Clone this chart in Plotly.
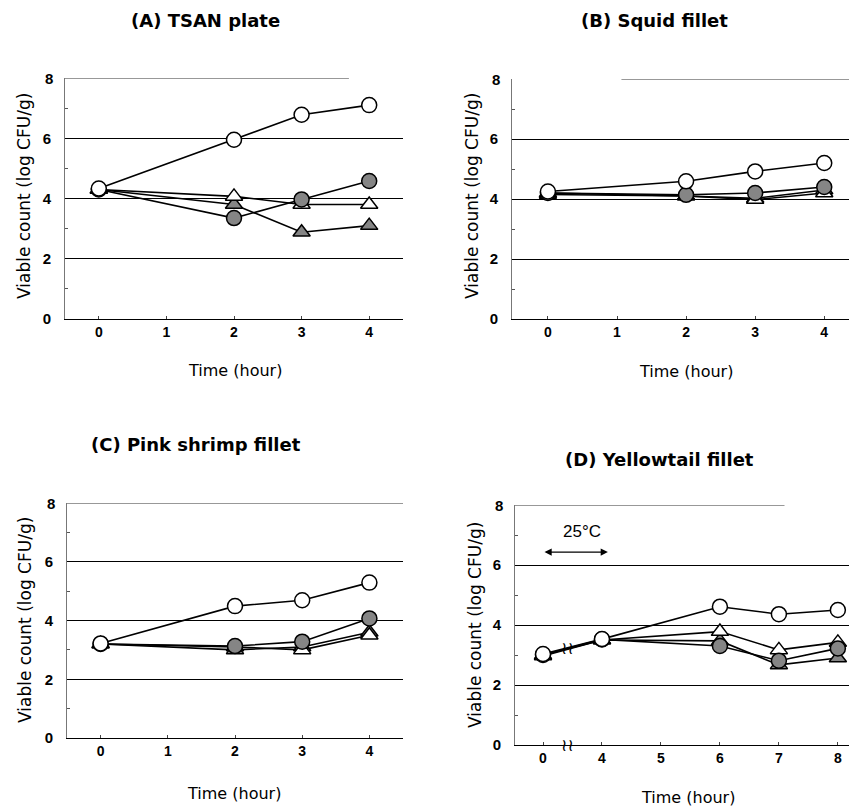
import plotly.graph_objects as go

# ---------------- data ----------------
time_cats_4h = ["0", "1", "2", "3", "4"]
time_meas_4h = ["0", "2", "3", "4"]
time_cats_8h = ["0", "4", "5", "6", "7", "8"]
time_meas_8h = ["0", "4", "6", "7", "8"]

series_names = ["Filled triangle", "Open triangle", "Filled circle", "Open circle"]

# (A) TSAN plate
a_filled_tri = [4.3, 3.8, 2.88, 3.1]
a_open_tri = [4.3, 4.07, 3.8, 3.8]
a_filled_circ = [4.3, 3.35, 3.97, 4.58]
a_open_circ = [4.33, 5.95, 6.78, 7.1]

# (B) Squid fillet
b_filled_tri = [4.15, 4.1, 4.02, 4.3]
b_open_tri = [4.2, 4.1, 3.98, 4.2]
b_filled_circ = [4.2, 4.14, 4.2, 4.4]
b_open_circ = [4.25, 4.59, 4.92, 5.2]

# (C) Pink shrimp fillet
c_filled_tri = [3.2, 3.0, 3.1, 3.6]
c_open_tri = [3.2, 3.1, 3.0, 3.5]
c_filled_circ = [3.2, 3.13, 3.28, 4.07]
c_open_circ = [3.22, 4.49, 4.69, 5.29]

# (D) Yellowtail fillet
d_filled_tri = [2.97, 3.5, 3.47, 2.67, 2.9]
d_open_tri = [3.0, 3.5, 3.78, 3.17, 3.42]
d_filled_circ = [3.0, 3.52, 3.3, 2.81, 3.22]
d_open_circ = [3.03, 3.53, 4.61, 4.36, 4.5]

panel_titles = ["(A) TSAN plate", "(B) Squid fillet", "(C) Pink shrimp fillet", "(D) Yellowtail fillet"]
y_title = "Viable count (log CFU/g)"
x_title = "Time (hour)"
y_ticks = [0, 2, 4, 6, 8]
temp_label = "25°C"

# ---------------- styling ----------------
W, H = 857, 806
OFF = 8  # default page body margin
GRAY = "#858585"
FONT_T = "DejaVu Sans"
FONT_N = "Liberation Sans"

def px(v):
    return (v - OFF) / W

def py(v):
    return 1 - (v - OFF) / H

marker_styles = [
    dict(symbol="triangle-up", color=GRAY, size=15, line=dict(color="black", width=1.5)),
    dict(symbol="triangle-up", color="white", size=15, line=dict(color="black", width=1.5)),
    dict(symbol="circle", color=GRAY, size=15, line=dict(color="black", width=1.5)),
    dict(symbol="circle", color="white", size=15, line=dict(color="black", width=1.5)),
]

panels = [
    dict(xa="x", ya="y", cats=time_cats_4h, meas=time_meas_4h,
         series=[a_filled_tri, a_open_tri, a_filled_circ, a_open_circ],
         xdom=[px(65), px(403)], ydom=[py(319), py(78)], xr=[-0.5, 4.5], top=[0.0, 0.84]),
    dict(xa="x2", ya="y2", cats=time_cats_4h, meas=time_meas_4h,
         series=[b_filled_tri, b_open_tri, b_filled_circ, b_open_circ],
         xdom=[px(512), 1.0], ydom=[py(319), py(79)], xr=[-0.52, 4.59], top=[0.31, 1.0]),
    dict(xa="x3", ya="y3", cats=time_cats_4h, meas=time_meas_4h,
         series=[c_filled_tri, c_open_tri, c_filled_circ, c_open_circ],
         xdom=[px(67), px(403)], ydom=[py(738), py(503)], xr=[-0.5, 4.5], top=[0.0, 1.0]),
    dict(xa="x4", ya="y4", cats=time_cats_8h, meas=time_meas_8h,
         series=[d_filled_tri, d_open_tri, d_filled_circ, d_open_circ],
         xdom=[px(515), 1.0], ydom=[py(745), py(505)], xr=[-0.475, 5.46], top=[0.0, 0.77]),
]

fig = go.Figure()
layout = dict(
    template="none",
    width=W, height=H, margin=dict(l=0, r=0, t=0, b=0, pad=0),
    paper_bgcolor="white", plot_bgcolor="white", showlegend=False,
)

shapes = []
for i, p in enumerate(panels):
    for name, vals, ms in zip(series_names, p["series"], marker_styles):
        fig.add_trace(go.Scatter(
            x=p["meas"], y=vals, name=name, mode="lines+markers",
            line=dict(color="black", width=1.6), marker=ms,
            xaxis=p["xa"], yaxis=p["ya"], cliponaxis=False,
        ))
    xkey = "xaxis" if p["xa"] == "x" else "xaxis" + p["xa"][1:]
    ykey = "yaxis" if p["ya"] == "y" else "yaxis" + p["ya"][1:]
    layout[xkey] = dict(
        domain=p["xdom"], anchor=p["ya"], type="category", automargin=False,
        categoryorder="array", categoryarray=p["cats"], range=p["xr"],
        showgrid=False, zeroline=False, showline=True, linecolor="black", linewidth=1.3,
        ticks="inside", ticklen=3, tickcolor="#444", tickwidth=1,
        tickfont=dict(family=FONT_N, size=14, color="black", weight="bold"),
        fixedrange=True,
    )
    layout[ykey] = dict(
        domain=p["ydom"], anchor=p["xa"], range=[0, 8], automargin=False,
        tickvals=y_ticks[:-1], ticktext=[str(t) for t in y_ticks[:-1]],
        showgrid=True, gridcolor="black", gridwidth=1.2,
        zeroline=False, showline=True, linecolor="#777", linewidth=1,
        ticks="", ticklabelstandoff=10,
        minor=dict(tickvals=[1, 3, 5, 7], ticks="inside", ticklen=3, tickcolor="#555", showgrid=False),
        tickfont=dict(family=FONT_N, size=15, color="black", weight="bold"),
        fixedrange=True,
    )
    # top boundary line at y = 8 (partially printed in the original)
    shapes.append(dict(type="line", xref=p["xa"] + " domain", yref=p["ya"],
                       x0=p["top"][0], x1=p["top"][1], y0=8, y1=8,
                       line=dict(color="#333", width=1.2)))

annotations = []
# "8" tick labels (top)
for p in panels:
    annotations.append(dict(text="8", x=0, y=8, xref=p["xa"] + " domain", yref=p["ya"],
                            showarrow=False, xanchor="right", xshift=-10,
                            font=dict(family=FONT_N, size=15, color="black", weight="bold")))
# panel titles
title_pos = [(205, 20), (654, 20), (196, 445), (659, 460)]
for t, (x, y) in zip(panel_titles, title_pos):
    annotations.append(dict(text=t, x=px(x), y=py(y), xref="paper", yref="paper",
                            showarrow=False, xanchor="center", yanchor="middle",
                            font=dict(family=FONT_T, size=18, color="black", weight="bold")))
# y axis titles
ytitle_pos = [(24, 196), (472, 196), (25, 620), (475, 625)]
for (x, y) in ytitle_pos:
    annotations.append(dict(text=y_title, x=px(x), y=py(y), xref="paper", yref="paper",
                            showarrow=False, textangle=-90, xanchor="center", yanchor="middle",
                            font=dict(family=FONT_T, size=17, color="black")))
# x axis titles
xtitle_pos = [(235, 370), (686, 371), (234, 793), (688, 797)]
for (x, y) in xtitle_pos:
    annotations.append(dict(text=x_title, x=px(x), y=py(y), xref="paper", yref="paper",
                            showarrow=False, xanchor="center", yanchor="middle",
                            font=dict(family=FONT_T, size=16, color="black")))

# 25°C label and double arrow in panel D
annotations.append(dict(text=temp_label, x=0.66, y=7.13, xref="x4", yref="y4",
                        showarrow=False, font=dict(family=FONT_N, size=17, color="black")))
annotations.append(dict(text="", x=1.1, y=6.43, ax=0.0, ay=6.43, xref="x4", yref="y4",
                        axref="x4", ayref="y4", showarrow=True, arrowside="end+start",
                        arrowhead=2, arrowsize=1.2, arrowwidth=1.2, arrowcolor="black"))
# axis break marks in panel D
for yv in [3.25, 0.0]:
    annotations.append(dict(text="≀≀", x=0.42, y=yv, xref="x4", yref="y4", showarrow=False,
                            font=dict(family="DejaVu Sans", size=17, color="black")))

layout["annotations"] = annotations
layout["shapes"] = shapes
fig.update_layout(**layout)
fig.write_html("out.html")
